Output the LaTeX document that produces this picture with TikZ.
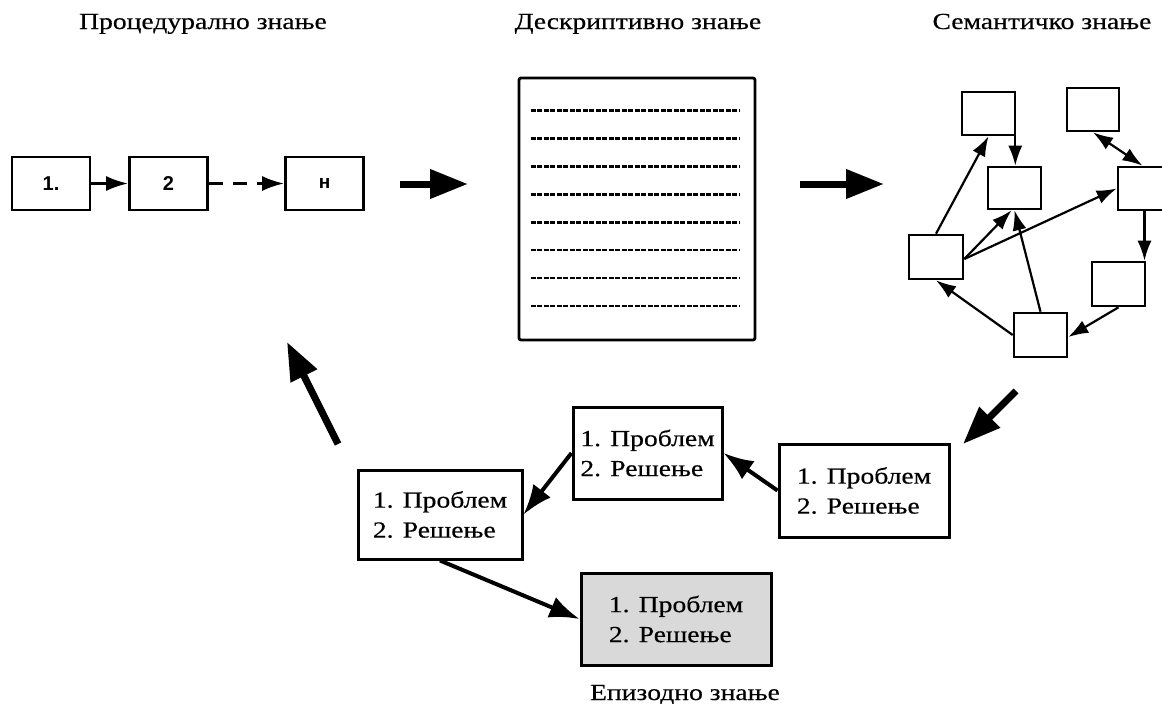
\documentclass[tikz,border=0pt]{standalone}
\usepackage{fontspec}
\setmainfont{Liberation Serif}[FakeStretch=1.2,FakeBold=0.4]
\newfontfamily\procfont{Liberation Sans}
\usetikzlibrary{arrows.meta,calc}
\begin{document}
\begin{tikzpicture}[x=1pt,y=-1pt,
  title/.style={font=\fontsize{23}{27}\selectfont, anchor=base, inner sep=0pt},
  pbox/.style={draw, line width=2.6pt, minimum width=78pt, minimum height=53pt, inner sep=0pt, font=\procfont\bfseries\fontsize{20}{24}\selectfont},
  netbox/.style={draw, line width=2.6pt, minimum width=53pt, minimum height=43pt, inner sep=0pt},
  netarrow/.style={line width=2.2pt, -{Latex[length=20pt,width=14pt]}},
  netdouble/.style={line width=2.2pt, {Latex[length=20pt,width=14pt]}-{Latex[length=20pt,width=14pt]}},
  ebox/.style={draw, line width=3pt, align=left, inner sep=0pt, font=\fontsize{23}{30}\selectfont},
  earrow/.style={line width=4pt, -{Latex[length=30pt,width=22pt]}},
  bigarrow/.style={line width=7pt, -{Triangle[length=38pt,width=28pt]}},
  docline/.style={line width=2.6pt, dash pattern=on 5pt off 1.5pt}
]
\useasboundingbox (0,0) rectangle (1162,704);
\clip (0,0) rectangle (1162,704);

% titles
\node[title] (t1) at (203,29) {Процедурално знање};
\node[title] (t2) at (638,29) {Дескриптивно знање};
\node[title] (t3) at (1042,29) {Семантичко знање};
\node[title] (t4) at (685,700) {Епизодно знање};

% procedural
\node[pbox] (p1) at (51,183.5) {1.};
\node[pbox] (p2) at (168.5,183.5) {2};
\node[pbox] (p3) at (324.5,183.5) {\fontsize{19}{22}\selectfont н};
\draw[line width=2.8pt, -{Latex[length=22pt,width=15pt]}] (p1) -- (p2);
\draw[line width=2.8pt, dash pattern=on 14pt off 10pt, -{Latex[length=22pt,width=15pt]}] (p2) -- (p3);

% big arrows top
\coordinate (a1s) at (400,184);
\coordinate (a1e) at (468,184);
\draw[bigarrow] (a1s) -- (a1e);
\coordinate (a2s) at (800,184);
\coordinate (a2e) at (884,184);
\draw[bigarrow] (a2s) -- (a2e);

% document
\node[draw, line width=2.8pt, rounded corners=2pt, minimum width=236pt, minimum height=262pt, inner sep=0pt] (doc) at (637,209) {};
\foreach \i in {0,...,7} {
  \draw[docline] ($(doc.north west)+(13,34+27.9*\i)$) -- ($(doc.north east)+(-16,34+27.9*\i)$);
}

% semantic network
\node[netbox] (A) at (988.5,113.5) {};
\node[netbox, minimum width=52pt] (B) at (1093,109.5) {};
\node[netbox, minimum height=42pt] (C) at (1014.5,188) {};
\node[netbox] (D) at (1144.5,188.5) {};
\node[netbox, minimum width=54pt, minimum height=44pt] (E) at (936,257) {};
\node[netbox, minimum height=44pt] (F) at (1118.5,284) {};
\node[netbox, minimum height=44pt] (G) at (1040.5,335) {};

\draw[netarrow] ([xshift=-1pt]A.south east) -- ([xshift=-1pt]A.south east |- C.north);
\draw[netarrow] (E.north) -- (A.south);
\draw[netarrow] ([yshift=-2pt]E.east) -- ([xshift=-3pt]C.south);
\draw[netarrow] ([yshift=-2pt]E.east) -- (D.west);
\draw[netarrow] (G.north) -- (C.south);
\draw[netarrow] (G.west) -- (E.south);
\draw[netdouble] (B.south) -- ([xshift=-2pt]D.north);
\draw[netarrow] (D.south) -- (D.south |- F.north);
\draw[netarrow] (F.south) -- ([yshift=-2pt]G.east);

% diagonal big arrows
\coordinate (a3s) at (1016,391);
\coordinate (a3e) at (963,444);
\draw[bigarrow] (a3s) -- (a3e);
\coordinate (a4s) at (338,444);
\coordinate (a4e) at (287,342);
\draw[bigarrow] (a4s) -- (a4e);

% episodic
\node[ebox, minimum width=149pt, minimum height=92pt] (M) at (647.5,453) {1. Проблем\\2. Решење};
\node[ebox, minimum width=170pt, minimum height=93pt] (R) at (864,490.5) {1. Проблем\\2. Решење};
\node[ebox, minimum width=164pt, minimum height=89pt] (L) at (440,514.5) {1. Проблем\\2. Решење};
\node[ebox, fill=black!15, minimum width=190pt, minimum height=92pt] (Gr) at (676,619) {1. Проблем\\2. Решење};

\draw[earrow] (R.west) -- (M.east);
\draw[earrow] (M.west) -- (L.east);
\draw[earrow] (L.south) -- (Gr.west);
\end{tikzpicture}
\end{document}
